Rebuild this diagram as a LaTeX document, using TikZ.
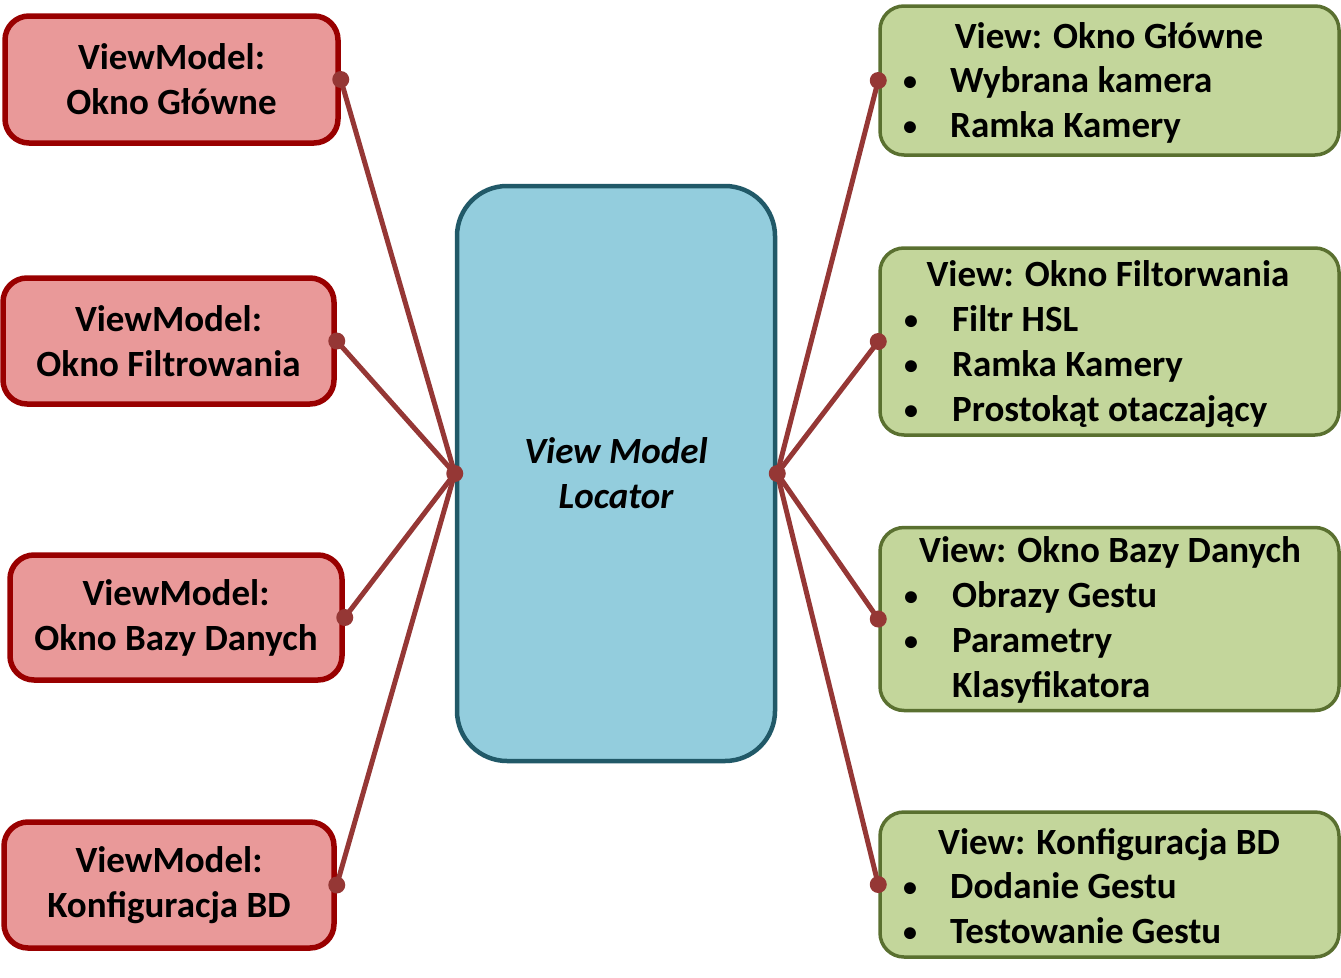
\documentclass[tikz,border=0pt]{standalone}
\usepackage{fontspec}
\setmainfont{Carlito}
\definecolor{redfill}{HTML}{E99999}
\definecolor{redline}{HTML}{990000}
\definecolor{bluefill}{HTML}{93CDDD}
\definecolor{blueline}{HTML}{215968}
\definecolor{greenfill}{HTML}{C3D69B}
\definecolor{greenline}{HTML}{5A7030}
\definecolor{conn}{HTML}{953735}
\begin{document}
\begin{tikzpicture}[x=1pt,y=-1pt,
  txt/.style={font=\fontsize{37}{45}\selectfont\bfseries},
  vmbox/.style={draw=redline, fill=redfill, line width=5.5pt, rounded corners=24pt,
    inner sep=0pt, align=center, txt},
  locbox/.style={draw=blueline, fill=bluefill, line width=4.5pt, rounded corners=50pt,
    inner sep=0pt, align=center, txt, font=\fontsize{37}{45}\selectfont\bfseries\itshape},
  vbox/.style={draw=greenline, fill=greenfill, line width=3.5pt, rounded corners=24pt, inner sep=0pt},
  item/.style={txt, anchor=base west, inner sep=0pt},
  ttl/.style={txt, anchor=base, inner sep=0pt},
  bul/.style={font=\fontsize{28}{45}\selectfont\bfseries, anchor=base, inner sep=0pt},
  link/.style={draw=conn, line width=5pt},
  dot/.style={fill=conn, draw=none, circle, inner sep=0pt, minimum size=17pt}]
\useasboundingbox (0,0) rectangle (1341,977);

% left ViewModel boxes
\node[vmbox, minimum width=333pt, minimum height=127pt] (vm1) at (171.5,79.5) {ViewModel:\\Okno Główne};
\node[vmbox, minimum width=331pt, minimum height=126pt] (vm2) at (168.5,341) {ViewModel:\\Okno Filtrowania};
\node[vmbox, minimum width=332pt, minimum height=125pt] (vm3) at (176,617.5) {ViewModel:\\Okno Bazy Danych};
\node[vmbox, minimum width=330pt, minimum height=126pt] (vm4) at (169,885) {ViewModel:\\Konfiguracja BD};

% center locator
\node[locbox, minimum width=318pt, minimum height=575pt] (loc) at (616,473.5) {View Model\\Locator};

% right View boxes
\node[vbox, minimum width=459pt, minimum height=149pt] (v1) at (1109.5,80.5) {};
\node[vbox, minimum width=459pt, minimum height=187pt] (v2) at (1109.5,341.5) {};
\node[vbox, minimum width=459pt, minimum height=183pt] (v3) at (1109.5,619) {};
\node[vbox, minimum width=459pt, minimum height=145pt] (v4) at (1109.5,884.5) {};

% texts of right boxes
\node[ttl] (v1t) at (1109,48) {View: Okno Główne};
\node[bul] (v1b1) at (910,90) {•};
\node[item] (v1i1) at (950,92) {Wybrana kamera};
\node[bul] (v1b2) at (910,135) {•};
\node[item] (v1i2) at (950,137) {Ramka Kamery};

\node[ttl] (v2t) at (1108,286) {View: Okno Filtorwania};
\node[bul] (v2b1) at (911,329) {•};
\node[item] (v2i1) at (952,331) {Filtr HSL};
\node[bul] (v2b2) at (911,374) {•};
\node[item] (v2i2) at (952,376) {Ramka Kamery};
\node[bul] (v2b3) at (911,419) {•};
\node[item] (v2i3) at (952,421) {Prostokąt otaczający};

\node[ttl] (v3t) at (1110,562) {View: Okno Bazy Danych};
\node[bul] (v3b1) at (911,605) {•};
\node[item] (v3i1) at (952,607) {Obrazy Gestu};
\node[bul] (v3b2) at (911,650) {•};
\node[item] (v3i2) at (952,652) {Parametry};
\node[item] (v3i3) at (952,697) {Klasyfikatora};

\node[ttl] (v4t) at (1109,854) {View: Konfiguracja BD};
\node[bul] (v4b1) at (910,896) {•};
\node[item] (v4i1) at (950,898) {Dodanie Gestu};
\node[bul] (v4b2) at (910,941) {•};
\node[item] (v4i2) at (950,943) {Testowanie Gestu};

% connectors
\foreach \n in {vm1,vm2,vm3,vm4} {
  \draw[link] (\n.east) -- (loc.west);
  \node[dot] at (\n.east) {};
}
\foreach \n in {v1,v2,v3,v4} {
  \draw[link] (loc.east) -- (\n.west);
  \node[dot] at (\n.west) {};
}
\node[dot] at (loc.west) {};
\node[dot] at (loc.east) {};
\end{tikzpicture}
\end{document}
